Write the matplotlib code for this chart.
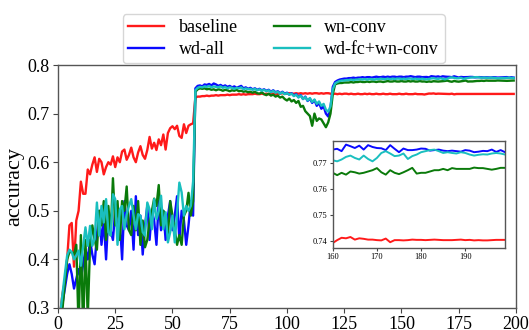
import numpy as np
import matplotlib
matplotlib.use("Agg")
import matplotlib.pyplot as plt

plt.rcParams['font.family'] = ['Liberation Serif', 'DejaVu Serif']
plt.rcParams['mathtext.fontset'] = 'stix'

epochs = np.arange(200)

baseline = [
    0.26, 0.29, 0.33, 0.355, 0.40, 0.47, 0.475, 0.385, 0.48, 0.50,
    0.56, 0.535, 0.535, 0.585, 0.575, 0.595, 0.61, 0.58, 0.607, 0.60,
    0.575, 0.59, 0.60, 0.595, 0.612, 0.59, 0.61, 0.60, 0.622, 0.626,
    0.605, 0.615, 0.63, 0.61, 0.60, 0.62, 0.633, 0.615, 0.607, 0.625,
    0.652, 0.628, 0.64, 0.625, 0.647, 0.635, 0.657, 0.626, 0.66, 0.67,
    0.674, 0.668, 0.675, 0.654, 0.65, 0.678, 0.66, 0.675, 0.678, 0.68,
    0.733, 0.735, 0.735, 0.736, 0.736, 0.737, 0.736, 0.737, 0.737, 0.738,
    0.737, 0.738, 0.738, 0.738, 0.739, 0.738, 0.739, 0.739, 0.739, 0.740,
    0.739, 0.740, 0.739, 0.740, 0.740, 0.740, 0.741, 0.740, 0.740, 0.741,
    0.740, 0.741, 0.740, 0.741, 0.741, 0.740, 0.741, 0.741, 0.742, 0.741,
    0.741, 0.742, 0.741, 0.741, 0.742, 0.741, 0.742, 0.741, 0.742, 0.741,
    0.742, 0.741, 0.742, 0.742, 0.741, 0.742, 0.741, 0.742, 0.742, 0.741,
    0.740, 0.741, 0.740, 0.741, 0.740, 0.741, 0.741, 0.740, 0.741, 0.740,
    0.740, 0.741, 0.740, 0.740, 0.741, 0.740, 0.741, 0.740, 0.740, 0.741,
    0.740, 0.740, 0.741, 0.740, 0.740, 0.741, 0.740, 0.740, 0.740, 0.741,
    0.740, 0.740, 0.741, 0.740, 0.740, 0.740, 0.741, 0.740, 0.740, 0.740,
    0.7393, 0.7404, 0.7413, 0.7411, 0.7416, 0.7406, 0.7411, 0.7409, 0.7406, 0.7406,
    0.7404, 0.7403, 0.7410, 0.7396, 0.7404, 0.7404, 0.7403, 0.7404, 0.7406, 0.7405,
    0.7405, 0.7404, 0.7405, 0.7406, 0.7405, 0.7404, 0.7404, 0.7404, 0.7405, 0.7406,
    0.7404, 0.7405, 0.7403, 0.7404, 0.7403, 0.7403, 0.7404, 0.7405, 0.7405, 0.7405,
]

wd_all = [
    0.25, 0.28, 0.31, 0.34, 0.37, 0.39, 0.37, 0.34, 0.36, 0.38,
    0.36, 0.39, 0.42, 0.40, 0.44, 0.41, 0.39, 0.45, 0.50, 0.43,
    0.48, 0.40, 0.49, 0.46, 0.44, 0.50, 0.46, 0.48, 0.40, 0.52,
    0.47, 0.46, 0.50, 0.42, 0.53, 0.45, 0.49, 0.41, 0.47, 0.51,
    0.44, 0.50, 0.48, 0.43, 0.52, 0.46, 0.50, 0.44, 0.49, 0.52,
    0.46, 0.49, 0.53, 0.44, 0.50, 0.48, 0.43, 0.47, 0.52, 0.49,
    0.752, 0.757, 0.758, 0.756, 0.760, 0.759, 0.761, 0.758, 0.762, 0.760,
    0.757, 0.759, 0.756, 0.758, 0.755, 0.757, 0.754, 0.756, 0.753, 0.755,
    0.757, 0.752, 0.754, 0.751, 0.753, 0.750, 0.752, 0.749, 0.751, 0.748,
    0.750, 0.747, 0.749, 0.745, 0.748, 0.744, 0.746, 0.742, 0.745, 0.741,
    0.743, 0.739, 0.742, 0.737, 0.740, 0.734, 0.738, 0.730, 0.735, 0.726,
    0.731, 0.722, 0.728, 0.716, 0.722, 0.710, 0.715, 0.700, 0.694, 0.712,
    0.755, 0.765, 0.768, 0.770, 0.771, 0.772, 0.772, 0.773, 0.773, 0.774,
    0.773, 0.774, 0.774, 0.775, 0.774, 0.775, 0.775, 0.774, 0.775, 0.776,
    0.775, 0.775, 0.776, 0.775, 0.776, 0.775, 0.776, 0.776, 0.775, 0.776,
    0.776, 0.775, 0.776, 0.776, 0.777, 0.776, 0.775, 0.776, 0.776, 0.775,
    0.7751, 0.7754, 0.7745, 0.7770, 0.7764, 0.7757, 0.7766, 0.7751, 0.7768, 0.7761,
    0.7757, 0.7756, 0.7749, 0.7768, 0.7754, 0.7741, 0.7755, 0.7749, 0.7749, 0.7751,
    0.7755, 0.7754, 0.7747, 0.7749, 0.7751, 0.7747, 0.7745, 0.7747, 0.7745, 0.7743,
    0.7749, 0.7747, 0.7741, 0.7743, 0.7746, 0.7745, 0.7751, 0.7742, 0.7749, 0.7741,
]

wn_conv = [
    0.24, 0.27, 0.30, 0.35, 0.40, 0.415, 0.415, 0.41, 0.43, 0.26,
    0.45, 0.25, 0.44, 0.28, 0.43, 0.47, 0.44, 0.42, 0.50, 0.47,
    0.52, 0.44, 0.51, 0.45, 0.567, 0.47, 0.52, 0.44, 0.52, 0.50,
    0.55, 0.46, 0.45, 0.51, 0.46, 0.52, 0.43, 0.48, 0.425, 0.44,
    0.48, 0.50, 0.525, 0.51, 0.553, 0.47, 0.50, 0.49, 0.45, 0.52,
    0.49, 0.46, 0.43, 0.45, 0.43, 0.49, 0.50, 0.537, 0.49, 0.52,
    0.745, 0.750, 0.752, 0.751, 0.752, 0.750, 0.751, 0.749, 0.750, 0.748,
    0.750, 0.749, 0.747, 0.749, 0.748, 0.746, 0.748, 0.747, 0.749, 0.746,
    0.747, 0.745, 0.746, 0.744, 0.745, 0.743, 0.745, 0.742, 0.741, 0.744,
    0.740, 0.738, 0.741, 0.737, 0.739, 0.735, 0.737, 0.733, 0.735, 0.730,
    0.727, 0.731, 0.725, 0.728, 0.722, 0.726, 0.714, 0.716, 0.705, 0.700,
    0.695, 0.675, 0.700, 0.685, 0.690, 0.688, 0.680, 0.672, 0.682, 0.700,
    0.740, 0.760, 0.762, 0.763, 0.763, 0.764, 0.764, 0.764, 0.765, 0.764,
    0.765, 0.765, 0.766, 0.765, 0.765, 0.766, 0.765, 0.766, 0.766, 0.765,
    0.766, 0.766, 0.765, 0.766, 0.767, 0.766, 0.766, 0.767, 0.766, 0.766,
    0.767, 0.766, 0.766, 0.767, 0.766, 0.767, 0.766, 0.766, 0.767, 0.766,
    0.7662, 0.7653, 0.7662, 0.7655, 0.7667, 0.7664, 0.7659, 0.7662, 0.7667, 0.7672,
    0.7680, 0.7664, 0.7655, 0.7672, 0.7662, 0.7657, 0.7664, 0.7672, 0.7681, 0.7659,
    0.7662, 0.7662, 0.7667, 0.7672, 0.7672, 0.7677, 0.7672, 0.7680, 0.7677, 0.7677,
    0.7677, 0.7677, 0.7682, 0.7680, 0.7680, 0.7677, 0.7674, 0.7677, 0.7681, 0.7681,
]

wd_fc_wn_conv = [
    0.25, 0.29, 0.33, 0.37, 0.408, 0.42, 0.415, 0.40, 0.408, 0.418,
    0.387, 0.428, 0.466, 0.428, 0.469, 0.428, 0.442, 0.517, 0.449, 0.51,
    0.476, 0.524, 0.456, 0.449, 0.534, 0.524, 0.43, 0.503, 0.51, 0.462,
    0.493, 0.51, 0.524, 0.49, 0.462, 0.493, 0.49, 0.456, 0.449, 0.517,
    0.503, 0.462, 0.524, 0.483, 0.50, 0.531, 0.462, 0.497, 0.435, 0.456,
    0.49, 0.435, 0.497, 0.558, 0.538, 0.49, 0.51, 0.50, 0.51, 0.56,
    0.748, 0.753, 0.755, 0.754, 0.756, 0.755, 0.757, 0.754, 0.756, 0.755,
    0.754, 0.756, 0.753, 0.755, 0.752, 0.754, 0.753, 0.751, 0.753, 0.752,
    0.754, 0.750, 0.752, 0.750, 0.751, 0.749, 0.751, 0.748, 0.750, 0.747,
    0.749, 0.746, 0.748, 0.744, 0.747, 0.743, 0.745, 0.741, 0.744, 0.740,
    0.742, 0.739, 0.741, 0.736, 0.739, 0.733, 0.737, 0.730, 0.734, 0.727,
    0.732, 0.724, 0.729, 0.720, 0.725, 0.716, 0.720, 0.708, 0.704, 0.715,
    0.750, 0.762, 0.765, 0.767, 0.768, 0.768, 0.769, 0.769, 0.770, 0.769,
    0.770, 0.770, 0.771, 0.770, 0.771, 0.770, 0.771, 0.771, 0.770, 0.771,
    0.771, 0.772, 0.771, 0.771, 0.772, 0.771, 0.772, 0.771, 0.772, 0.772,
    0.771, 0.772, 0.771, 0.772, 0.772, 0.771, 0.772, 0.771, 0.771, 0.772,
    0.7710, 0.7706, 0.7713, 0.7723, 0.7728, 0.7719, 0.7713, 0.7728, 0.7715, 0.7706,
    0.7719, 0.7738, 0.7745, 0.7736, 0.7726, 0.7728, 0.7736, 0.7715, 0.7726, 0.7732,
    0.7741, 0.7745, 0.7749, 0.7751, 0.7745, 0.7738, 0.7741, 0.7738, 0.7736, 0.7741,
    0.7738, 0.7732, 0.7728, 0.7731, 0.7733, 0.7732, 0.7736, 0.7738, 0.7736, 0.7732,
]

labels = ['baseline', 'wd-all', 'wn-conv', 'wd-fc+wn-conv']
colors = ['#ff1a1a', '#0a0aff', '#0a7a0a', '#1abfbf']
series = [baseline, wd_all, wn_conv, wd_fc_wn_conv]

main_xticks = [0, 25, 50, 75, 100, 125, 150, 175, 200]
main_yticks = [0.3, 0.4, 0.5, 0.6, 0.7, 0.8]
inset_xticks = [160, 170, 180, 190]
inset_yticks = [0.74, 0.75, 0.76, 0.77]

fig = plt.figure(figsize=(5.29, 3.30), dpi=100)
ax = fig.add_axes([0.1096, 0.0667, 0.8658, 0.7363])

lines = []
for s, c, l in zip(series, colors, labels):
    ln, = ax.plot(epochs, s, color=c, lw=1.7, label=l)
    lines.append(ln)

ax.set_xlim(0, 200)
ax.set_ylim(0.3, 0.8)
ax.set_xticks(main_xticks)
ax.set_yticks(main_yticks)
ax.set_yticklabels([f"{v:.1f}" for v in main_yticks])
ax.tick_params(labelsize=13, length=3.5, pad=2.5, color='#444444')
ax.set_ylabel('accuracy', fontsize=16, labelpad=2)
for sp in ax.spines.values():
    sp.set_color('#555555')
    sp.set_linewidth(1.0)

fig.legend(lines, labels, loc='upper center', bbox_to_anchor=(0.536, 0.985),
           ncol=2, fontsize=13, frameon=True, fancybox=True, edgecolor='#cccccc',
           handlelength=2.0, columnspacing=2.0, borderpad=0.3, labelspacing=0.25,
           handletextpad=0.8)

axin = fig.add_axes([0.629, 0.2494, 0.3257, 0.3242])
for s, c in zip(series, colors):
    axin.plot(epochs[160:], s[160:], color=c, lw=1.4)
axin.set_xlim(160, 199)
axin.set_ylim(0.7375, 0.7785)
axin.set_xticks(inset_xticks)
axin.set_yticks(inset_yticks)
axin.set_yticklabels([f"{v:.2f}" for v in inset_yticks])
axin.tick_params(labelsize=6, length=2.5, pad=1.5, color='#444444')
for sp in axin.spines.values():
    sp.set_color('#555555')
    sp.set_linewidth(1.0)

fig.savefig('out.png', dpi=100)
